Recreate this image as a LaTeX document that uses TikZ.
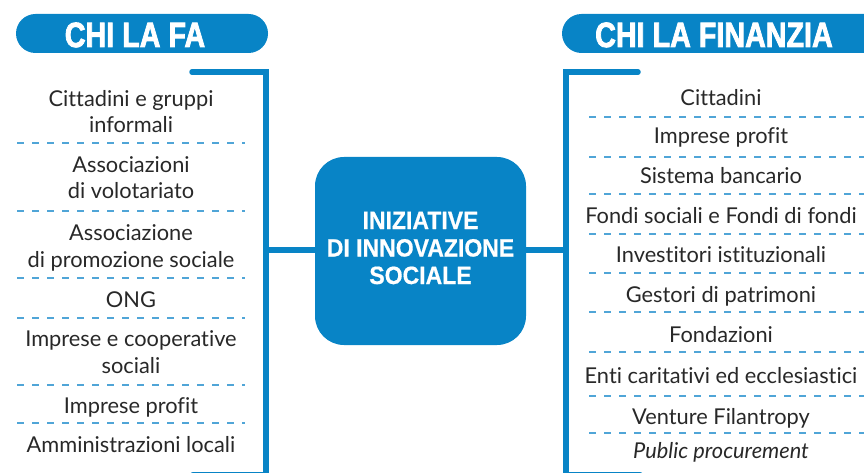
\documentclass[tikz,border=0pt]{standalone}
\usepackage{fontspec}
\setmainfont{Lato}[RawFeature=-liga]
\newfontfamily\headfont{Liberation Sans Bold}[FakeBold=2.6]
\newfontfamily\corefont{Liberation Sans Bold}[FakeBold=0.6]
\definecolor{brandblue}{RGB}{8,132,198}
\definecolor{dashblue}{RGB}{80,165,215}
\definecolor{itemgray}{RGB}{40,40,40}
\tikzset{
  pill/.style={fill=brandblue, rounded corners=19.5pt, inner sep=0pt},
  headtext/.style={text=white, inner sep=0pt, anchor=base,
    font=\headfont\fontsize{35}{35}\selectfont},
  core/.style={fill=brandblue, rounded corners=29pt, minimum width=211pt,
    minimum height=188pt, inner sep=0pt, text=white, align=center,
    font=\corefont\fontsize{25}{27.5}\selectfont},
  spine/.style={draw=brandblue, line width=5.5pt},
  item/.style={text=itemgray, inner sep=0pt, anchor=base, align=center,
    font=\fontsize{21.8}{26.5}\selectfont},
  sep/.style={draw=dashblue, line width=1.4pt, dash pattern=on 7pt off 8pt}
}
\begin{document}
\begin{tikzpicture}[x=1pt,y=-1pt]
\useasboundingbox (0,0) rectangle (864,473);
\clip (0,0) rectangle (864,473);

% headers
\node[pill, minimum width=252pt, minimum height=39pt] (hfa) at (142,33.5) {};
\node[headtext] (hfatext) at (135,47) {\scalebox{0.82}[1]{CHI LA FA}};
\node[pill, minimum width=340pt, minimum height=39pt] (hfin) at (732,33.5) {};
\node[headtext] (hfintext) at (714,47) {\scalebox{0.82}[1]{CHI LA FINANZIA}};

% central box
\node[core] (core) at (420.5,251) {\scalebox{0.92}[1]{\begin{tabular}{@{}c@{}}INIZIATIVE\\DI INNOVAZIONE\\SOCIALE\end{tabular}}};

% spines of the two lists
\coordinate (ltop) at (192,72);
\coordinate (lspine) at (266,250);
\coordinate (lbot) at (193,474.5);
\draw[spine, line cap=round] (ltop) -| (lbot -| lspine) -- (lbot);
\coordinate (rtop) at (638,72);
\coordinate (rspine) at (566,250);
\coordinate (rbot) at (640,474.5);
\draw[spine, line cap=round] (rtop) -| (rbot -| rspine) -- (rbot);
\draw[spine] (core.west |- lspine) -- (lspine);
\draw[spine] (core.east |- rspine) -- (rspine);

% who does it (anchored at the baseline of the last line)
\node[item] (fa1) at (131,133) {Cittadini e gruppi\\informali};
\node[item] (fa2) at (131,199) {Associazioni\\di volotariato};
\node[item] (fa3) at (131,267) {Associazione\\di promozione sociale};
\node[item] (fa4) at (131,307) {ONG};
\node[item] (fa5) at (131,373) {Imprese e cooperative\\sociali};
\node[item] (fa6) at (131,413) {Imprese profit};
\node[item] (fa7) at (131,452) {Amministrazioni locali};
\foreach \yy in {143,211,278,318,385,423}
  \draw[sep] (17,\yy) -- (245,\yy);

% who funds it
\node[item] (fin1) at (721,106) {Cittadini};
\node[item] (fin2) at (721,144) {Imprese profit};
\node[item] (fin3) at (721,184) {Sistema bancario};
\node[item] (fin4) at (721,223) {Fondi sociali e Fondi di fondi};
\node[item] (fin5) at (721,262) {Investitori istituzionali};
\node[item] (fin6) at (721,302) {Gestori di patrimoni};
\node[item] (fin7) at (721,342) {Fondazioni};
\node[item] (fin8) at (721,383) {Enti caritativi ed ecclesiastici};
\node[item] (fin9) at (721,424) {Venture Filantropy};
\node[item] (fin10) at (721,458) {\itshape Public procurement};
\foreach \yy in {117,157,194,234,273,312,352,396,433}
  \draw[sep] (589,\yy) -- (870,\yy);
\end{tikzpicture}
\end{document}
